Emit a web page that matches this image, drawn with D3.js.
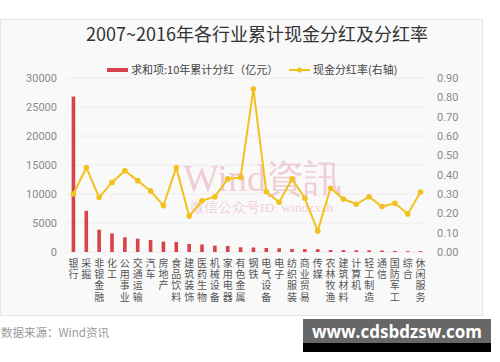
<!DOCTYPE html>
<html><head><meta charset="utf-8">
<script src="https://cdn.jsdelivr.net/npm/d3@7/dist/d3.min.js"></script>
<style>body{margin:0;background:#fff;}svg{display:block;font-family:"Noto Sans CJK SC","Noto Sans",sans-serif;}</style>
</head><body>
<svg id="c" width="500" height="362"></svg>
<script>
const categories = ["银行","采掘","非银金融","化工","公用事业","交通运输","汽车","房地产","食品饮料","建筑装饰","医药生物","机械设备","家用电器","有色金属","钢铁","电气设备","电子","纺织服装","商业贸易","传媒","农林牧渔","建筑材料","计算机","轻工制造","通信","国防军工","综合","休闲服务"];
const dividends = [26800,7100,3850,3200,2530,2300,2070,1780,1720,1380,1300,1090,1050,810,780,700,640,520,500,480,340,330,300,290,250,180,150,140];
const payoutRatio = [0.30,0.436,0.283,0.36,0.42,0.369,0.316,0.24,0.436,0.186,0.265,0.286,0.378,0.386,0.843,0.312,0.257,0.378,0.278,0.109,0.33,0.274,0.247,0.286,0.235,0.252,0.197,0.31];
const leftTicks = [0,5000,10000,15000,20000,25000,30000];
const rightTicks = [0,0.1,0.2,0.3,0.4,0.5,0.6,0.7,0.8,0.9];
const title = "2007~2016年各行业累计现金分红及分红率";
const legendBar = "求和项:10年累计分红（亿元）";
const legendLine = "现金分红率(右轴)";
const source = "数据来源：Wind资讯";

const svg = d3.select("#c");
const red = "#d8434b", gold = "#f2c11d";

// panel
svg.append("rect").attr("x",0.5).attr("y",19.5).attr("width",482).attr("height",296)
  .attr("fill","#f9f9f9").attr("stroke","#e4e4e4");

const x = d3.scaleBand().domain(categories).range([67,427]);
const yL = d3.scaleLinear().domain([0,30000]).range([252,78]);
const yR = d3.scaleLinear().domain([0,0.9]).range([252,78]);

// grid
svg.append("g").selectAll("line").data(leftTicks).join("line")
  .attr("x1",67).attr("x2",427).attr("y1",d=>yL(d)).attr("y2",d=>yL(d))
  .attr("stroke","#ececec").attr("stroke-width",1);

// left axis
const gl = svg.append("g").attr("transform","translate(60,0)")
  .call(d3.axisLeft(yL).tickValues(leftTicks).tickFormat(d3.format("d")).tickSize(0).tickPadding(3));
gl.select(".domain").remove();
gl.selectAll("text").attr("fill","#8a8a8a").style("font-size","11px").style("font-family","Roboto,'Noto Sans',sans-serif");

// right axis
const gr = svg.append("g").attr("transform","translate(434,0)")
  .call(d3.axisRight(yR).tickValues(rightTicks).tickFormat(d3.format(".2f")).tickSize(0).tickPadding(3));
gr.select(".domain").remove();
gr.selectAll("text").attr("fill","#8a8a8a").style("font-size","11px").style("font-family","Roboto,'Noto Sans',sans-serif");

// watermark
svg.append("text").attr("x",183).attr("y",191).text("Wind資訊")
  .attr("fill","rgba(225,130,150,0.38)").style("font-size","38px").style("font-family","'Liberation Serif',serif");
svg.append("text").attr("x",190).attr("y",212).text("微信公众号ID: windzxsh")
  .attr("fill","rgba(225,130,150,0.38)").style("font-size","13.5px").style("font-family","'Liberation Serif',serif");

// bars
const bw = 3.6;
svg.append("g").selectAll("rect").data(dividends).join("rect")
  .attr("x",(d,i)=>x(categories[i])+x.bandwidth()/2-bw/2)
  .attr("width",bw)
  .attr("y",d=>yL(d)).attr("height",d=>yL(0)-yL(d))
  .attr("fill",red);

// line
const line = d3.line().x((d,i)=>x(categories[i])+x.bandwidth()/2).y(d=>yR(d));
svg.append("path").datum(payoutRatio).attr("d",line).attr("fill","none").attr("stroke",gold).attr("stroke-width",2);
svg.append("g").selectAll("circle").data(payoutRatio).join("circle")
  .attr("cx",(d,i)=>x(categories[i])+x.bandwidth()/2).attr("cy",d=>yR(d)).attr("r",2.8).attr("fill",gold);

// x labels: one character per line
const xg = svg.append("g").selectAll("g").data(categories).join("g")
  .attr("transform",d=>`translate(${x(d)+x.bandwidth()/2},0)`);
xg.selectAll("text").data(d=>Array.from(d)).join("text")
  .attr("x",0).attr("y",(ch,k)=>267+k*11.2).attr("text-anchor","middle")
  .attr("fill","#555").style("font-size","10px").text(ch=>ch);

// title
svg.append("text").attr("x",257).attr("y",41).attr("text-anchor","middle").text(title)
  .attr("fill","#333").style("font-size","18px");

// legend
svg.append("rect").attr("x",107).attr("y",68).attr("width",21).attr("height",4).attr("fill",red);
svg.append("text").attr("x",131).attr("y",74).text(legendBar).attr("fill","#444").style("font-size","11px");
svg.append("line").attr("x1",289).attr("x2",310).attr("y1",70).attr("y2",70).attr("stroke",gold).attr("stroke-width",2);
svg.append("circle").attr("cx",299.5).attr("cy",70).attr("r",2.5).attr("fill",gold);
svg.append("text").attr("x",313).attr("y",74).text(legendLine).attr("fill","#444").style("font-size","11px");

// source
svg.append("text").attr("x",1).attr("y",337).text(source).attr("fill","#9a9a9a").style("font-size","11.5px");

// site watermark box
svg.append("rect").attr("x",303).attr("y",319).attr("width",188).attr("height",25).attr("fill","#676767");
svg.append("rect").attr("x",303).attr("y",343).attr("width",188).attr("height",9).attr("fill","#000");
svg.append("text").attr("x",397).attr("y",338).attr("text-anchor","middle").text("www.cdsbdzsw.com")
  .attr("fill","#fff").style("font-size","17px").style("font-weight","bold").style("font-family","'Open Sans','DejaVu Sans',sans-serif");
</script>
</body></html>
